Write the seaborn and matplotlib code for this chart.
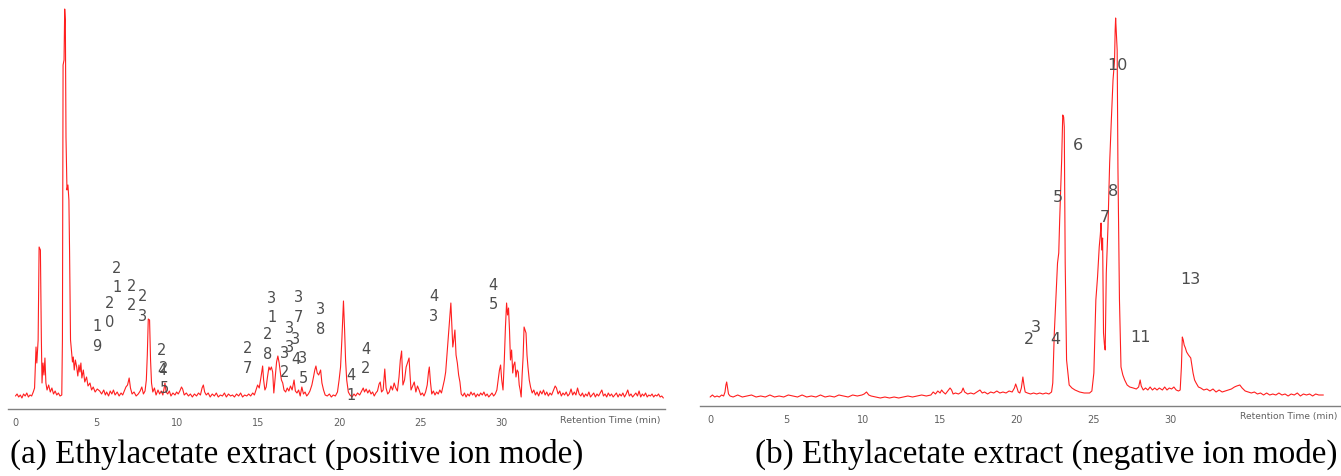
import matplotlib
matplotlib.use("Agg")
import matplotlib.pyplot as plt
from matplotlib.ticker import MultipleLocator
import seaborn as sns

# Chromatogram traces (retention time in min, signal in arbitrary units)
pos_time = [
    0.00, 0.10, 0.20, 0.30, 0.40, 0.50, 0.60, 0.70, 0.80, 0.90, 1.00, 1.10, 1.18, 1.24, 1.27, 1.32,
    1.40, 1.46, 1.54, 1.60, 1.64, 1.70, 1.76, 1.82, 1.88, 1.95, 2.05, 2.15, 2.25, 2.35, 2.45, 2.55,
    2.65, 2.75, 2.86, 2.90, 2.94, 3.00, 3.04, 3.08, 3.12, 3.18, 3.24, 3.30, 3.34, 3.40, 3.47, 3.52,
    3.57, 3.63, 3.70, 3.78, 3.85, 3.92, 3.98, 4.04, 4.10, 4.19, 4.28, 4.39, 4.48, 4.60, 4.70, 4.80,
    4.92, 5.05, 5.20, 5.32, 5.45, 5.55, 5.63, 5.75, 5.85, 5.95, 6.05, 6.15, 6.28, 6.40, 6.52, 6.62,
    6.72, 6.82, 6.92, 7.02, 7.10, 7.20, 7.32, 7.45, 7.58, 7.70, 7.80, 7.90, 8.00, 8.08, 8.14, 8.20,
    8.28, 8.34, 8.40, 8.48, 8.58, 8.68, 8.80, 8.90, 9.00, 9.10, 9.18, 9.23, 9.30, 9.40, 9.50, 9.60,
    9.72, 9.85, 9.95, 10.05, 10.15, 10.25, 10.32, 10.42, 10.55, 10.68, 10.80, 10.92, 11.05, 11.18, 11.30, 11.42,
    11.52, 11.60, 11.68, 11.78, 11.90, 12.02, 12.15, 12.28, 12.40, 12.52, 12.65, 12.78, 12.90, 13.02, 13.15, 13.28,
    13.40, 13.52, 13.65, 13.78, 13.90, 14.02, 14.15, 14.28, 14.40, 14.52, 14.65, 14.75, 14.85, 14.95, 15.05, 15.15,
    15.26, 15.32, 15.40, 15.48, 15.55, 15.65, 15.72, 15.80, 15.88, 15.95, 16.05, 16.12, 16.20, 16.28, 16.35, 16.42,
    16.50, 16.58, 16.68, 16.78, 16.88, 16.98, 17.08, 17.20, 17.28, 17.38, 17.48, 17.58, 17.68, 17.78, 17.88, 17.98,
    18.08, 18.18, 18.30, 18.40, 18.48, 18.55, 18.63, 18.72, 18.84, 18.92, 19.02, 19.12, 19.25, 19.38, 19.50, 19.62,
    19.75, 19.88, 19.98, 20.07, 20.15, 20.25, 20.32, 20.38, 20.45, 20.55, 20.65, 20.78, 20.90, 21.00, 21.12, 21.25,
    21.38, 21.47, 21.55, 21.65, 21.75, 21.85, 21.95, 22.05, 22.15, 22.25, 22.35, 22.45, 22.52, 22.60, 22.70, 22.80,
    22.88, 22.98, 23.08, 23.18, 23.28, 23.38, 23.48, 23.58, 23.68, 23.76, 23.84, 23.92, 24.02, 24.12, 24.22, 24.30,
    24.36, 24.42, 24.52, 24.62, 24.72, 24.82, 24.92, 25.02, 25.12, 25.22, 25.32, 25.42, 25.50, 25.55, 25.62, 25.70,
    25.80, 25.90, 26.00, 26.10, 26.20, 26.30, 26.40, 26.48, 26.56, 26.64, 26.72, 26.80, 26.88, 26.94, 27.00, 27.06,
    27.13, 27.20, 27.28, 27.36, 27.44, 27.52, 27.62, 27.72, 27.82, 27.92, 28.02, 28.12, 28.22, 28.32, 28.42, 28.52,
    28.62, 28.72, 28.82, 28.92, 29.02, 29.12, 29.22, 29.32, 29.42, 29.52, 29.62, 29.72, 29.80, 29.88, 29.95, 30.02,
    30.10, 30.18, 30.25, 30.32, 30.38, 30.44, 30.50, 30.56, 30.63, 30.70, 30.76, 30.83, 30.90, 30.97, 31.04, 31.10,
    31.16, 31.22, 31.28, 31.34, 31.40, 31.46, 31.52, 31.58, 31.64, 31.72, 31.80, 31.90, 32.00, 32.10, 32.20, 32.30,
    32.40, 32.50, 32.60, 32.70, 32.80, 32.90, 33.00, 33.10, 33.20, 33.32, 33.40, 33.50, 33.60, 33.70, 33.80, 33.90,
    34.00, 34.10, 34.20, 34.30, 34.40, 34.50, 34.60, 34.70, 34.80, 34.90, 35.00, 35.10, 35.20, 35.30, 35.40, 35.50,
    35.60, 35.70, 35.80, 35.90, 36.00, 36.10, 36.20, 36.30, 36.40, 36.50, 36.60, 36.70, 36.80, 36.90, 37.00, 37.10,
    37.20, 37.30, 37.40, 37.50, 37.60, 37.70, 37.80, 37.90, 38.00, 38.10, 38.20, 38.30, 38.40, 38.50, 38.60, 38.70,
    38.80, 38.90, 39.00, 39.10, 39.20, 39.30, 39.40, 39.50, 39.60, 39.70, 39.80, 39.90, 40.00,
]
pos_signal = [
    4, 6, 3, 5, 2, 6, 4, 7, 3, 5, 4, 8, 12, 40, 53, 37,
    60, 153, 150, 60, 17, 37, 25, 42, 17, 10, 15, 8, 12, 6, 9, 5,
    7, 4, 5, 60, 335, 340, 391, 380, 263, 210, 215, 200, 150, 60, 47, 38,
    43, 30, 40, 33, 24, 35, 28, 37, 22, 30, 18, 23, 14, 17, 10, 13,
    8, 11, 9, 6, 10, 5, 8, 4, 9, 6, 10, 5, 8, 4, 7, 5,
    9, 13, 15, 22, 12, 6, 8, 4, 6, 9, 13, 6, 9, 20, 45, 81,
    80, 40, 17, 8, 12, 5, 10, 6, 9, 5, 12, 17, 8, 6, 9, 4,
    7, 5, 8, 6, 9, 13, 11, 5, 7, 4, 6, 3, 6, 4, 7, 5,
    12, 15, 8, 5, 7, 3, 6, 4, 7, 3, 5, 4, 7, 3, 6, 4,
    5, 3, 6, 4, 7, 3, 5, 4, 6, 4, 7, 5, 10, 15, 12, 22,
    34, 20, 10, 13, 22, 33, 30, 33, 28, 7, 25, 38, 44, 37, 28, 20,
    17, 10, 8, 12, 9, 14, 10, 20, 9, 7, 10, 4, 13, 6, 8, 4,
    6, 9, 15, 23, 30, 34, 27, 25, 30, 17, 10, 5, 4, 6, 3, 5,
    4, 8, 20, 33, 60, 99, 70, 40, 20, 8, 5, 3, 6, 4, 7, 5,
    9, 12, 8, 11, 7, 10, 6, 8, 4, 7, 9, 16, 18, 8, 10, 31,
    12, 6, 8, 14, 10, 17, 12, 9, 23, 40, 49, 15, 20, 33, 38, 42,
    25, 10, 14, 18, 8, 14, 10, 5, 7, 4, 8, 15, 28, 33, 18, 6,
    9, 5, 8, 6, 10, 7, 14, 20, 28, 45, 63, 80, 97, 75, 53, 60,
    70, 45, 37, 25, 18, 6, 4, 7, 3, 6, 4, 8, 5, 7, 3, 6,
    4, 7, 5, 8, 4, 6, 3, 5, 7, 4, 6, 10, 20, 30, 35, 20,
    10, 40, 73, 97, 85, 92, 70, 40, 50, 27, 35, 38, 23, 30, 28, 15,
    10, 3, 25, 43, 73, 70, 67, 45, 33, 20, 13, 7, 10, 5, 8, 4,
    9, 6, 10, 5, 8, 4, 7, 5, 9, 14, 12, 6, 9, 4, 7, 5,
    8, 4, 6, 11, 5, 8, 5, 12, 6, 4, 7, 3, 6, 4, 8, 3,
    5, 7, 3, 6, 4, 7, 10, 4, 6, 3, 7, 4, 6, 3, 5, 7,
    3, 6, 4, 7, 3, 6, 10, 4, 6, 3, 5, 7, 4, 9, 3, 6,
    4, 7, 3, 5, 4, 6, 3, 5, 4, 6, 3, 4, 2,
]

neg_time = [
    0.00, 0.15, 0.30, 0.45, 0.60, 0.75, 0.88, 0.97, 1.03, 1.08, 1.14, 1.20, 1.30, 1.50, 1.80, 2.10,
    2.40, 2.70, 3.00, 3.30, 3.60, 3.90, 4.20, 4.50, 4.80, 5.10, 5.40, 5.70, 6.00, 6.30, 6.60, 6.90,
    7.20, 7.50, 7.80, 8.10, 8.40, 8.70, 9.00, 9.30, 9.60, 9.90, 10.05, 10.20, 10.35, 10.50, 10.80, 11.10,
    11.40, 11.70, 12.00, 12.30, 12.60, 12.90, 13.20, 13.50, 13.80, 14.10, 14.40, 14.55, 14.70, 14.85, 15.00, 15.10,
    15.20, 15.35, 15.50, 15.65, 15.75, 15.85, 16.00, 16.20, 16.40, 16.50, 16.60, 16.80, 17.00, 17.20, 17.40, 17.60,
    17.75, 17.90, 18.10, 18.30, 18.50, 18.70, 18.90, 19.10, 19.30, 19.50, 19.70, 19.85, 19.93, 20.00, 20.10, 20.20,
    20.30, 20.40, 20.47, 20.55, 20.70, 20.90, 21.10, 21.30, 21.50, 21.70, 21.90, 22.10, 22.27, 22.35, 22.45, 22.55,
    22.66, 22.74, 22.80, 22.93, 23.00, 23.06, 23.10, 23.16, 23.25, 23.42, 23.60, 23.80, 24.10, 24.40, 24.75, 24.90,
    25.03, 25.16, 25.27, 25.38, 25.45, 25.50, 25.54, 25.60, 25.66, 25.72, 25.77, 25.84, 25.95, 26.06, 26.17, 26.28,
    26.38, 26.42, 26.45, 26.50, 26.55, 26.60, 26.70, 26.80, 26.92, 27.04, 27.20, 27.37, 27.60, 27.80, 27.95, 28.05,
    28.12, 28.25, 28.40, 28.55, 28.70, 28.85, 29.00, 29.15, 29.30, 29.50, 29.65, 29.80, 29.95, 30.10, 30.25, 30.40,
    30.55, 30.66, 30.74, 30.80, 30.86, 30.92, 31.00, 31.08, 31.20, 31.35, 31.50, 31.60, 31.70, 31.85, 32.00, 32.20,
    32.40, 32.60, 32.80, 33.00, 33.20, 33.40, 33.60, 33.80, 34.00, 34.20, 34.35, 34.55, 34.70, 34.90, 35.10, 35.30,
    35.50, 35.70, 35.90, 36.10, 36.30, 36.50, 36.70, 36.90, 37.10, 37.30, 37.50, 37.70, 37.90, 38.10, 38.30, 38.50,
    38.70, 38.90, 39.10, 39.30, 39.50, 39.70, 40.00,
]
neg_signal = [
    3, 5, 3, 4, 3, 5, 4, 8, 15, 18, 12, 6, 4, 3, 5, 3,
    4, 5, 3, 4, 3, 5, 3, 4, 3, 5, 4, 3, 5, 3, 4, 3,
    5, 3, 4, 3, 5, 4, 3, 5, 4, 5, 6, 8, 5, 4, 3, 2,
    3, 2, 3, 2, 3, 4, 3, 4, 5, 4, 5, 8, 6, 9, 7, 10,
    8, 6, 9, 12, 10, 6, 7, 6, 8, 12, 8, 6, 7, 6, 8, 10,
    7, 8, 6, 8, 7, 9, 7, 8, 7, 9, 8, 12, 16, 13, 8, 7,
    12, 23, 15, 8, 7, 6, 7, 6, 7, 6, 7, 6, 8, 17, 67, 100,
    137, 147, 180, 240, 285, 283, 273, 137, 40, 15, 12, 10, 8, 7, 7, 9,
    27, 100, 123, 153, 165, 177, 150, 162, 67, 55, 50, 127, 173, 237, 280, 320,
    340, 370, 382, 365, 350, 233, 100, 33, 25, 20, 15, 13, 12, 11, 13, 20,
    14, 10, 12, 10, 13, 10, 12, 10, 12, 10, 13, 10, 12, 11, 13, 10,
    9, 10, 33, 63, 60, 55, 52, 48, 45, 42, 27, 20, 17, 13, 12, 10,
    11, 9, 11, 8, 10, 8, 9, 10, 11, 13, 14, 15, 12, 9, 8, 7,
    8, 6, 7, 5, 7, 5, 6, 5, 7, 5, 6, 4, 6, 5, 7, 4,
    6, 5, 6, 4, 6, 5, 5,
]

# Peak numbers (two-digit numbers are printed as vertical stacks in panel a)
pos_peak_ids = ["19", "20", "21", "22", "23", "24", "25", "27", "28", "31",
                "32", "33", "34", "35", "37", "38", "41", "42", "43", "45"]
pos_peak_time = [5.03, 5.83, 6.27, 7.19, 7.87, 9.04, 9.17, 14.35, 15.59, 15.83,
                 16.60, 16.91, 17.31, 17.75, 17.50, 18.86, 20.74, 21.64, 25.83, 29.48]
pos_peak_height = [63.5, 87, 122, 104, 93.5, 39.5, 21.5, 41.5, 55.5, 92,
                   37, 62, 50.5, 31.5, 92.5, 80.5, 14.5, 41, 93.5, 105]

neg_peak_ids = ["2", "3", "4", "5", "6", "7", "8", "10", "11", "13"]
neg_peak_time = [20.8, 21.26, 22.5, 22.7, 24.0, 25.76, 26.28, 26.6, 28.05, 31.3]
neg_peak_height = [61, 73, 61, 203, 254, 182, 208, 334, 62, 121]

tick_values = [0, 5, 10, 15, 20, 25, 30]
captions = ["(a) Ethylacetate extract (positive ion mode)",
            "(b) Ethylacetate extract (negative ion mode)"]

sns.set_style("white")
plt.rcParams['font.family'] = ['DejaVu Sans']

W, H = 1341, 476
fig = plt.figure(figsize=(W / 100, H / 100), dpi=100)
ax1 = fig.add_axes([8 / W, (H - 409) / H, 657 / W, 409 / H])
ax2 = fig.add_axes([700 / W, (H - 406) / H, 641 / W, 406 / H])


def draw_panel(ax, t, s, xlim, ylim):
    sns.lineplot(x=t, y=s, ax=ax, color='#ff1f1f', linewidth=0.8, estimator=None)
    ax.set_xlim(*xlim)
    ax.set_ylim(*ylim)
    for side in ['top', 'left', 'right']:
        ax.spines[side].set_visible(False)
    ax.spines['bottom'].set_color('#808080')
    ax.spines['bottom'].set_linewidth(1.0)
    ax.set_yticks([])
    ax.set_xticks(tick_values)
    ax.xaxis.set_minor_locator(MultipleLocator(0.5))
    ax.tick_params(axis='x', which='both', direction='out', color='#808080',
                   length=4, width=0.8, labelsize=7, labelcolor='#606060', pad=2.5)
    ax.set_xlabel('')
    ax.set_ylabel('')


draw_panel(ax1, pos_time, pos_signal, (-0.46, 40.1), (-9, 400))
draw_panel(ax2, neg_time, neg_signal, (-0.66, 41.15), (-6, 400))

for txt, t, h in zip(pos_peak_ids, pos_peak_time, pos_peak_height):
    ax1.text(t, h, "\n".join(txt), ha='center', va='center', fontsize=10.5,
             color='#4d4d4d', linespacing=1.35)
for txt, t, h in zip(neg_peak_ids, neg_peak_time, neg_peak_height):
    ax2.text(t, h, txt, ha='center', va='center', fontsize=11.5, color='#4d4d4d')

fig.text(610 / W, 1 - 421 / H, "Retention Time (min)", ha='center', va='center',
         fontsize=6.8, color='#606060')
fig.text(1289 / W, 1 - 417 / H, "Retention Time (min)", ha='center', va='center',
         fontsize=6.6, color='#606060')

fig.text(10 / W, 1 - 454 / H, captions[0], ha='left', va='center',
         fontsize=23.8, family='Liberation Serif', color='black')
fig.text(755 / W, 1 - 454 / H, captions[1], ha='left', va='center',
         fontsize=23.8, family='Liberation Serif', color='black')

fig.savefig('out.png', dpi=100, facecolor='white')
